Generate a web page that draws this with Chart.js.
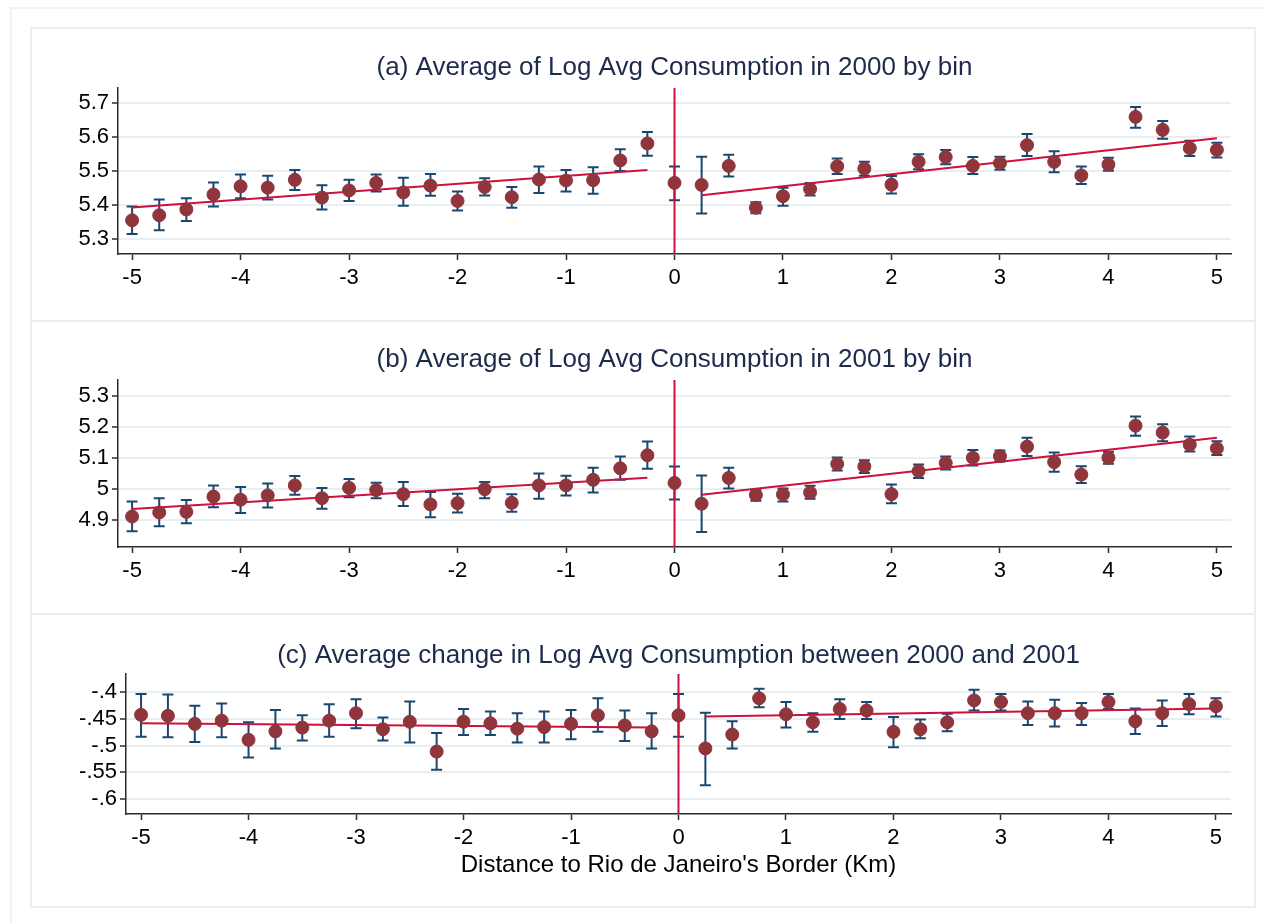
<!DOCTYPE html>
<html>
<head>
<meta charset="utf-8">
<script src="https://cdn.jsdelivr.net/npm/chart.js@4.4.1/dist/chart.umd.min.js"></script>
<style>
  body { margin: 0; width: 1264px; height: 923px; overflow: hidden; background: #fff; }
  .frame { position: absolute; left: 10px; top: 7px; width: 1280px; height: 940px; border: 2px solid #eef3f5; }
  .panel { position: absolute; left: 30px; width: 1226px; height: 295px; border: 2px solid #e8eff2; box-sizing: border-box; }
  canvas { position: absolute; left: 30px; }
</style>
</head>
<body>
<div class="frame"></div>
<div class="panel" style="top:27px"></div>
<div class="panel" style="top:320px"></div>
<div class="panel" style="top:613px"></div>
<canvas id="chartA" width="1225" height="293" style="top:28px"></canvas>
<canvas id="chartB" width="1225" height="293" style="top:321px"></canvas>
<canvas id="chartC" width="1225" height="293" style="top:614px"></canvas>
<script>
// distance bins (km), negative = inside the border
const bins = [-5, -4.75, -4.5, -4.25, -4, -3.75, -3.5, -3.25, -3, -2.75, -2.5, -2.25, -2, -1.75, -1.5, -1.25, -1, -0.75, -0.5, -0.25, 0,
  0.25, 0.5, 0.75, 1, 1.25, 1.5, 1.75, 2, 2.25, 2.5, 2.75, 3, 3.25, 3.5, 3.75, 4, 4.25, 4.5, 4.75, 5]

// (a) log avg consumption 2000
const mean2000 = [5.354, 5.369, 5.386, 5.430, 5.454, 5.450, 5.473, 5.421, 5.442, 5.464, 5.436, 5.456, 5.411, 5.452, 5.422, 5.474, 5.471, 5.472, 5.530, 5.580, 5.464,
  5.458, 5.514, 5.391, 5.425, 5.446, 5.513, 5.506, 5.459, 5.526, 5.540, 5.514, 5.522, 5.575, 5.526, 5.486, 5.518, 5.658, 5.620, 5.566, 5.561]
const lo2000 = [5.314, 5.325, 5.352, 5.395, 5.419, 5.415, 5.443, 5.386, 5.411, 5.439, 5.397, 5.426, 5.383, 5.427, 5.391, 5.434, 5.439, 5.432, 5.499, 5.544, 5.413,
  5.374, 5.483, 5.375, 5.397, 5.427, 5.490, 5.485, 5.433, 5.504, 5.519, 5.490, 5.503, 5.543, 5.495, 5.461, 5.500, 5.626, 5.594, 5.543, 5.539]
const hi2000 = [5.395, 5.415, 5.419, 5.465, 5.489, 5.485, 5.502, 5.457, 5.473, 5.489, 5.479, 5.490, 5.439, 5.478, 5.452, 5.512, 5.502, 5.510, 5.563, 5.614, 5.512,
  5.541, 5.547, 5.407, 5.450, 5.464, 5.536, 5.526, 5.484, 5.548, 5.561, 5.540, 5.541, 5.608, 5.557, 5.512, 5.538, 5.687, 5.646, 5.588, 5.582]

// (b) log avg consumption 2001
const mean2001 = [4.911, 4.924, 4.926, 4.975, 4.965, 4.979, 5.011, 4.970, 5.003, 4.996, 4.983, 4.950, 4.954, 4.999, 4.955, 5.011, 5.011, 5.029, 5.066, 5.108, 5.019,
  4.952, 5.035, 4.980, 4.982, 4.988, 5.080, 5.072, 4.983, 5.057, 5.083, 5.100, 5.105, 5.136, 5.086, 5.046, 5.100, 5.203, 5.181, 5.142, 5.130]
const lo2001 = [4.864, 4.880, 4.889, 4.941, 4.922, 4.940, 4.981, 4.936, 4.973, 4.970, 4.945, 4.909, 4.924, 4.970, 4.926, 4.968, 4.979, 4.988, 5.029, 5.065, 4.966,
  4.861, 5.001, 4.962, 4.959, 4.968, 5.059, 5.051, 4.954, 5.035, 5.062, 5.075, 5.088, 5.106, 5.055, 5.019, 5.081, 5.171, 5.153, 5.120, 5.109]
const hi2001 = [4.959, 4.970, 4.964, 5.011, 5.006, 5.017, 5.041, 5.003, 5.032, 5.020, 5.022, 4.990, 4.984, 5.022, 4.983, 5.049, 5.042, 5.068, 5.104, 5.152, 5.072,
  5.043, 5.068, 4.997, 5.001, 5.010, 5.101, 5.092, 5.014, 5.078, 5.104, 5.125, 5.123, 5.164, 5.117, 5.073, 5.119, 5.233, 5.208, 5.168, 5.153]

// (c) change 2000 -> 2001
const meanChange = [-0.442, -0.444, -0.459, -0.453, -0.489, -0.473, -0.466, -0.453, -0.439, -0.469, -0.455, -0.511, -0.455, -0.458, -0.468, -0.465, -0.459, -0.443, -0.462, -0.473, -0.443,
  -0.505, -0.479, -0.411, -0.441, -0.456, -0.431, -0.434, -0.474, -0.469, -0.456, -0.415, -0.418, -0.439, -0.439, -0.439, -0.418, -0.454, -0.439, -0.422, -0.426]
const loChange = [-0.483, -0.484, -0.493, -0.484, -0.522, -0.505, -0.490, -0.483, -0.467, -0.490, -0.494, -0.545, -0.480, -0.480, -0.494, -0.494, -0.488, -0.474, -0.491, -0.505, -0.483,
  -0.574, -0.505, -0.428, -0.466, -0.474, -0.450, -0.450, -0.503, -0.486, -0.473, -0.434, -0.434, -0.461, -0.464, -0.461, -0.431, -0.478, -0.463, -0.441, -0.445]
const hiChange = [-0.403, -0.404, -0.425, -0.421, -0.456, -0.433, -0.443, -0.422, -0.413, -0.447, -0.417, -0.476, -0.431, -0.436, -0.439, -0.436, -0.433, -0.411, -0.434, -0.439, -0.403,
  -0.438, -0.454, -0.393, -0.418, -0.439, -0.413, -0.418, -0.446, -0.451, -0.440, -0.395, -0.403, -0.417, -0.414, -0.420, -0.403, -0.430, -0.415, -0.403, -0.411]

// linear fits on each side of the border
const fitLeftX = [-5, -0.25]
const fitRightX = [0.25, 5]
const fit2000Left = [5.392, 5.502]
const fit2000Right = [5.428, 5.595]
const fit2001Left = [4.935, 5.036]
const fit2001Right = [4.981, 5.164]
const fitChangeLeft = [-0.458, -0.466]
const fitChangeRight = [-0.445, -0.430]

// axis ticks
const xTicks = [-5, -4, -3, -2, -1, 0, 1, 2, 3, 4, 5]
const yTicks2000 = [5.3, 5.4, 5.5, 5.6, 5.7]
const yLabels2000 = ['5.3', '5.4', '5.5', '5.6', '5.7']
const yTicks2001 = [4.9, 5, 5.1, 5.2, 5.3]
const yLabels2001 = ['4.9', '5', '5.1', '5.2', '5.3']
const yTicksChange = [-0.6, -0.55, -0.5, -0.45, -0.4]
const yLabelsChange = ['-.6', '-.55', '-.5', '-.45', '-.4']

const MAROON = '#8f353b'
const NAVY = '#1a476f'
const RED = '#cf0f3d'
const GRID = '#e7eff1'
const AXIS = '#2b2b2b'

Chart.defaults.font.family = '"Liberation Sans", Arial, Helvetica, sans-serif'
Chart.defaults.color = '#000'

function errorBarPlugin(lo, hi) {
    return {
        id: 'errorBars',
        beforeDatasetsDraw(chart) {
            const {ctx, scales: {x, y}} = chart
            ctx.save()
            ctx.strokeStyle = NAVY
            ctx.lineWidth = 2
            for (let i = 0; i < bins.length; i++) {
                const px = x.getPixelForValue(bins[i])
                const top = y.getPixelForValue(hi[i])
                const bot = y.getPixelForValue(lo[i])
                ctx.beginPath()
                ctx.moveTo(px, top)
                ctx.lineTo(px, bot)
                ctx.moveTo(px - 5.5, top)
                ctx.lineTo(px + 5.5, top)
                ctx.moveTo(px - 5.5, bot)
                ctx.lineTo(px + 5.5, bot)
                ctx.stroke()
            }
            ctx.restore()
        }
    }
}

// panel heading, centred over the plot region
function titlePlugin(text, ty) {
    return {
        id: 'panelTitle',
        afterDraw(chart) {
            const {ctx, chartArea} = chart
            ctx.save()
            ctx.font = '26px "Liberation Sans", Arial, sans-serif'
            ctx.fillStyle = '#1c2a4c'
            ctx.textAlign = 'center'
            ctx.textBaseline = 'middle'
            ctx.fillText(text, (chartArea.left + chartArea.right) / 2, ty)
            ctx.restore()
        }
    }
}

function makePanel(id, p) {
    const ctx = document.getElementById(id).getContext('2d')
    const points = bins.map((b, i) => ({x: b, y: p.mean[i]}))
    const line = (xs, ys) => xs.map((v, i) => ({x: v, y: ys[i]}))

    return new Chart(ctx, {
        type: 'scatter',
        data: {
            datasets: [{
                data: points,
                backgroundColor: MAROON,
                borderColor: MAROON,
                pointRadius: 6.5,
                pointHoverRadius: 6.5
            }, {
                type: 'line',
                data: line(fitLeftX, p.fitLeft),
                borderColor: RED,
                borderWidth: 2,
                pointRadius: 0
            }, {
                type: 'line',
                data: line(fitRightX, p.fitRight),
                borderColor: RED,
                borderWidth: 2,
                pointRadius: 0
            }, {
                type: 'line',
                data: [{x: 0, y: p.yMin}, {x: 0, y: p.yMax}],
                borderColor: RED,
                borderWidth: 2,
                pointRadius: 0
            }]
        },
        options: {
            responsive: false,
            animation: false,
            events: [],
            layout: {padding: {top: p.padTop, right: 24, left: 0, bottom: 0}},
            scales: {
                x: {
                    type: 'linear',
                    min: p.xMin,
                    max: p.xMax,
                    afterFit: axis => { axis.height = p.xHeight },
                    afterBuildTicks: axis => { axis.ticks = xTicks.map(v => ({value: v})) },
                    grid: {drawOnChartArea: false, drawTicks: true, tickLength: 6, tickColor: AXIS, tickWidth: 1.5},
                    border: {color: AXIS, width: 1.5},
                    ticks: {autoSkip: false, maxRotation: 0, padding: 5, font: {size: 22}, color: '#000',
                        callback: v => String(v)},
                    title: p.xTitle ? {display: true, text: p.xTitle, font: {size: 24}, color: '#000', padding: {top: 0, bottom: 27}} : {display: false}
                },
                y: {
                    type: 'linear',
                    min: p.yMin,
                    max: p.yMax,
                    afterFit: axis => { axis.width = p.yWidth },
                    afterBuildTicks: axis => { axis.ticks = p.yTicks.map(v => ({value: v})) },
                    grid: {color: GRID, lineWidth: 2, drawTicks: true, tickLength: 6, tickColor: AXIS, tickWidth: 1.5},
                    border: {color: AXIS, width: 1.5},
                    ticks: {autoSkip: false, padding: 3, font: {size: 22}, color: '#000',
                        callback: v => p.yLabels[p.yTicks.findIndex(t => Math.abs(t - v) < 1e-9)]}
                }
            },
            plugins: {
                legend: {display: false},
                tooltip: {enabled: false},
                title: {display: false}
            }
        },
        plugins: [errorBarPlugin(p.lo, p.hi), titlePlugin(p.title, p.titleY)]
    })
}

makePanel('chartA', {
    title: '(a) Average of Log Avg Consumption in 2000 by bin', titleY: 40,
    mean: mean2000, lo: lo2000, hi: hi2000, fitLeft: fit2000Left, fitRight: fit2000Right,
    yMin: 5.255, yMax: 5.743, yTicks: yTicks2000, yLabels: yLabels2000,
    xMin: -5.13, xMax: 5.13, yWidth: 88, padTop: 60, xHeight: 67
})

makePanel('chartB', {
    title: '(b) Average of Log Avg Consumption in 2001 by bin', titleY: 39,
    mean: mean2001, lo: lo2001, hi: hi2001, fitLeft: fit2001Left, fitRight: fit2001Right,
    yMin: 4.813, yMax: 5.35, yTicks: yTicks2001, yLabels: yLabels2001,
    xMin: -5.13, xMax: 5.13, yWidth: 88, padTop: 59, xHeight: 67
})

makePanel('chartC', {
    title: '(c) Average change in Log Avg Consumption between 2000 and 2001', titleY: 42,
    mean: meanChange, lo: loChange, hi: hiChange, fitLeft: fitChangeLeft, fitRight: fitChangeRight,
    yMin: -0.628, yMax: -0.3655, yTicks: yTicksChange, yLabels: yLabelsChange,
    xMin: -5.14, xMax: 5.14, yWidth: 96, padTop: 60, xHeight: 93,
    xTitle: "Distance to Rio de Janeiro's Border (Km)"
})
</script>
</body>
</html>
